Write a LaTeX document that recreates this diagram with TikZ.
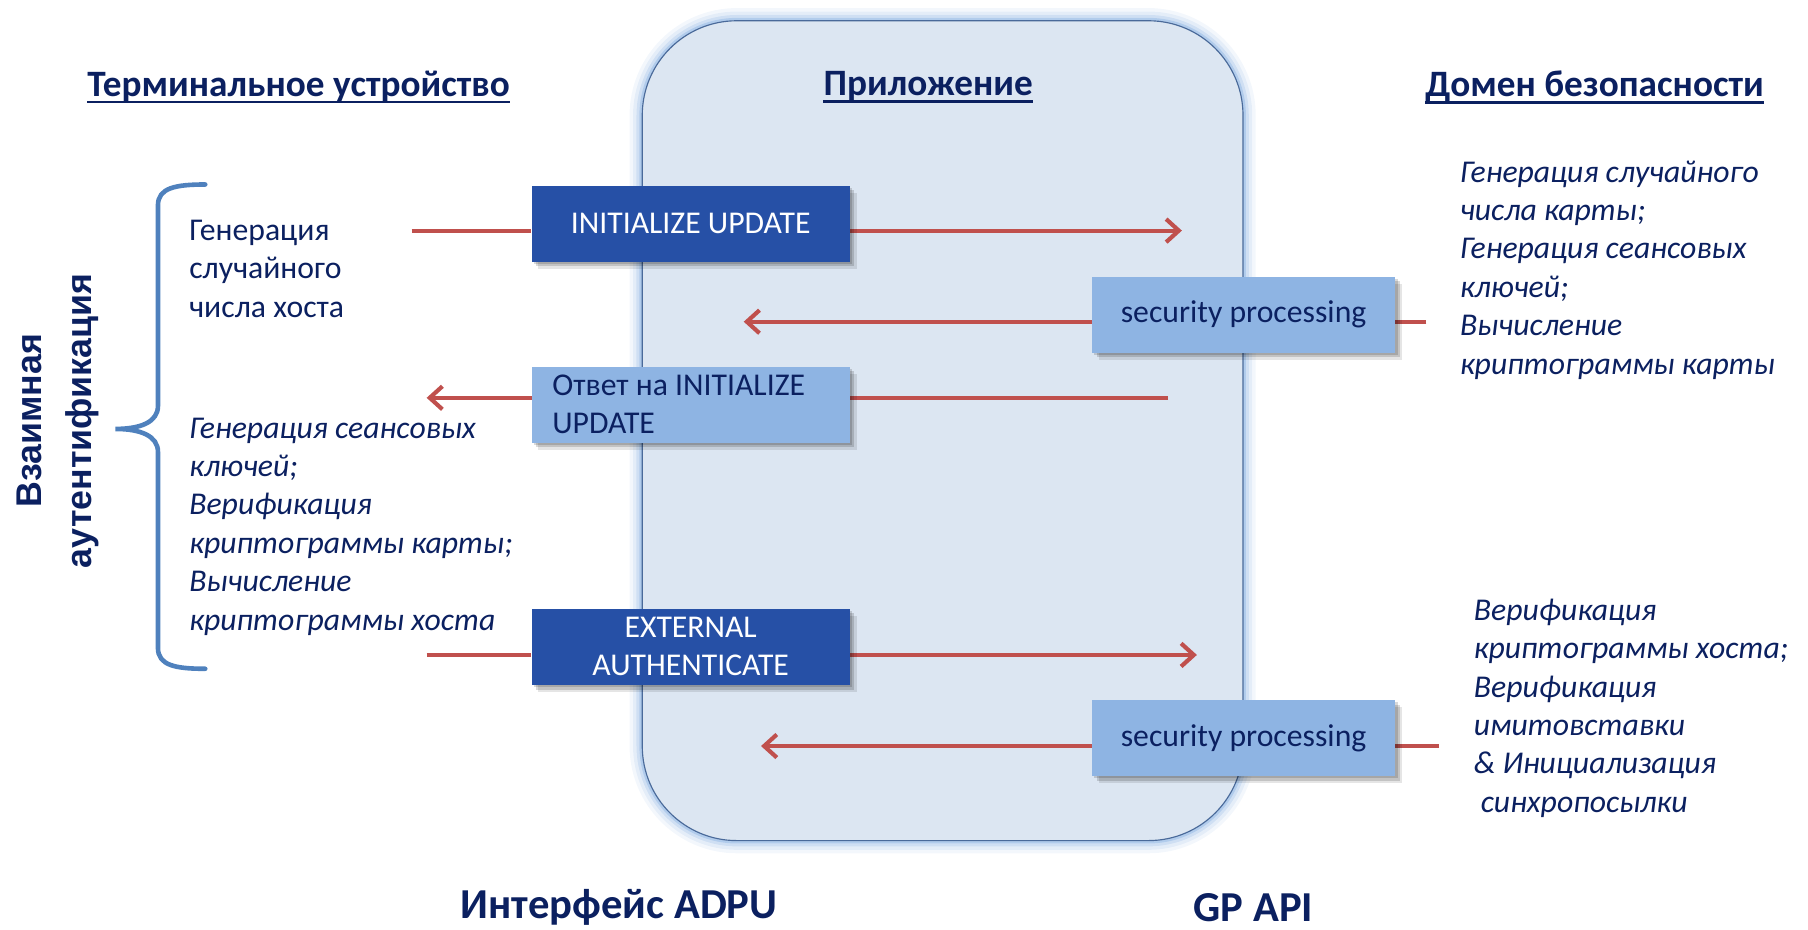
\documentclass[tikz,border=0pt]{standalone}
\usepackage{fontspec}
\setmainfont{Carlito}
\newfontfamily\arialfont{Liberation Sans}
\usetikzlibrary{arrows.meta,shadows}
\definecolor{navy}{HTML}{0B2060}
\definecolor{appfill}{HTML}{DCE6F2}
\definecolor{appline}{HTML}{4A6A9A}
\definecolor{glow}{HTML}{8EB4E3}
\definecolor{darkboxc}{HTML}{2650A6}
\definecolor{lightboxc}{HTML}{8EB4E3}
\definecolor{arrowred}{HTML}{C0504D}
\definecolor{bracecol}{HTML}{4F81BD}
\pgfdeclarelayer{back}
\pgfdeclarelayer{mid}
\pgfsetlayers{back,mid,main}
\tikzset{
  boxbase/.style={minimum height=66pt, inner sep=0pt, font=\fontsize{27.5}{33}\selectfont,
    drop shadow={shadow xshift=6pt, shadow yshift=-6pt, fill=black, opacity=0.10},
    drop shadow={shadow xshift=4pt, shadow yshift=-4pt, fill=black, opacity=0.15},
    drop shadow={shadow xshift=2pt, shadow yshift=-2pt, fill=black, opacity=0.15}},
  darkbox/.style={boxbase, minimum width=276pt, fill=darkboxc, text=white, align=center},
  lightbox/.style={boxbase, fill=lightboxc, text=navy},
  conn/.style={draw=arrowred, line width=3.6pt, -{Straight Barb[length=11pt,width=20pt,line width=3.6pt]}, line cap=round},
  stub/.style={draw=arrowred, line width=3.6pt},
  hdr/.style={font=\fontsize{32.3}{36}\selectfont\bfseries, text=navy, inner sep=0pt},
  uline/.style={draw=navy, line width=2.4pt},
  foot/.style={font=\fontsize{37}{42}\selectfont\bfseries, text=navy, inner sep=0pt},
  body/.style={font=\fontsize{27.5}{33.3}\selectfont, text=navy, inner sep=0pt, align=flush left, anchor=base west},
  ibody/.style={body, font=\fontsize{27.5}{33.3}\selectfont\itshape},
  bracest/.style={draw=bracecol, line width=4pt, line cap=round}
}
\begin{document}
\begin{tikzpicture}[x=1pt,y=-1pt]
\useasboundingbox (0,0) rectangle (1568,806);
% application container
\begin{pgfonlayer}{back}
\foreach \w/\o in {22/0.10,16/0.15,10/0.25,5/0.45}{
  \draw[glow, line width=\w pt, opacity=\o, rounded corners=82pt] (557,18) rectangle (1078,729);
}
\draw[appline, fill=appfill, line width=1pt, rounded corners=82pt] (557,18) rectangle (1078,729);
\end{pgfonlayer}
% headers
\node[hdr] (h1) at (259,75) {Терминальное устройство};
\node[hdr] (h2) at (805,75) {Приложение};
\node[hdr] (h3) at (1383,75) {Домен безопасности};
\foreach \h in {h1,h2,h3}{
  \draw[uline] ([yshift=-5pt]\h.base west) -- ([yshift=-5pt]\h.base east);
}
% boxes
\node[darkbox] (iu) at (599,194) {INITIALIZE UPDATE};
\node[lightbox, minimum width=276pt, text width=240pt, align=flush left] (resp) at (599,351) {Ответ на INITIALIZE\\UPDATE};
\node[darkbox] (ea) at (599,561) {EXTERNAL\\AUTHENTICATE};
\node[lightbox, minimum width=263pt] (sp1) at (1078.5,273) {security processing};
\node[lightbox, minimum width=263pt] (sp2) at (1078.5,640) {security processing};
% arrows
\coordinate (a1s) at (357,200); \coordinate (a1e) at (1025,200);
\coordinate (a2s) at (1237,279); \coordinate (a2e) at (645,279);
\coordinate (a3s) at (1013,345); \coordinate (a3e) at (370,345);
\coordinate (a4s) at (370,568); \coordinate (a4e) at (1038,568);
\coordinate (a5s) at (1248,647); \coordinate (a5e) at (660,647);
\begin{pgfonlayer}{mid}
\draw[stub] (a1s) -- (iu.west |- a1s);
\draw[conn] (iu.east |- a1s) -- (a1e);
\draw[stub] (a2s) -- (sp1.east |- a2s);
\draw[conn] (sp1.west |- a2s) -- (a2e);
\draw[stub] (a3s) -- (resp.east |- a3s);
\draw[conn] (resp.west |- a3s) -- (a3e);
\draw[stub] (a4s) -- (ea.west |- a4s);
\draw[conn] (ea.east |- a4s) -- (a4e);
\draw[stub] (a5s) -- (sp2.east |- a5s);
\draw[conn] (sp2.west |- a5s) -- (a5e);
\end{pgfonlayer}
% brace
\draw[bracest] (178,160) .. controls (152,160) and (137,163) .. (137,178) -- (137,352)
  .. controls (137,366) and (122,372) .. (100,372)
  .. controls (122,372) and (137,378) .. (137,392) -- (137,562)
  .. controls (137,577) and (152,580) .. (178,580);
\node[rotate=90, font=\arialfont\bfseries\fontsize{31}{43}\selectfont, text=navy, align=center, inner sep=0pt] (mut) at (50,365) {Взаимная\\аутентификация};
% left texts (anchored at the baseline of their last line)
\node[body] (lt1) at (164,275) {Генерация\\случайного\\числа хоста};
\node[ibody] (lt2) at (164,546.5) {Генерация сеансовых\\ключей;\\Верификация\\криптограммы карты;\\Вычисление\\криптограммы хоста};
% right texts
\node[ibody] (rt1) at (1266,324.5) {Генерация случайного\\числа карты;\\Генерация сеансовых\\ключей;\\Вычисление\\криптограммы карты};
\node[ibody] (rt2) at (1278,704.5) {Верификация\\криптограммы хоста;\\Верификация\\имитовставки\\\&~Инициализация\\\hspace*{6pt}синхропосылки};
% footers
\node[foot] (f1) at (537,787) {Интерфейс ADPU};
\node[foot] (f2) at (1087,787) {GP API};
\end{tikzpicture}
\end{document}
